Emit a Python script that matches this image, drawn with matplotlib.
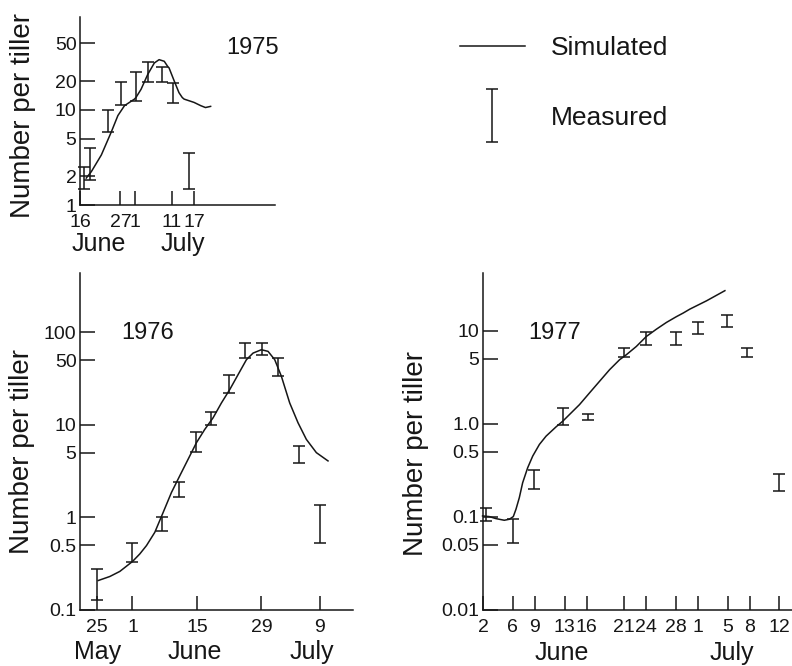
import matplotlib
matplotlib.use('Agg')
import matplotlib.pyplot as plt
from matplotlib.container import ErrorbarContainer
from matplotlib.legend_handler import HandlerErrorbar

plt.rcParams['font.family'] = ['Liberation Sans', 'DejaVu Sans']

INK = '#161616'
W, H = 792, 666

# ---- 1975 (x = day counted from 1 June; July d -> 30 + d)
meas_day_75 = [17.2, 18.8, 23.6, 27.2, 31.2, 34.4, 38.4, 41.4, 45.6]
meas_lo_75 = [1.46, 1.85, 5.9, 11.3, 12.5, 19.7, 19.7, 11.8, 1.48]
meas_hi_75 = [2.54, 3.94, 10.0, 19.7, 25.0, 31.7, 28.2, 19.4, 3.55]
sim_day_75 = [17.7, 19.1, 21.8, 24.5, 26.3, 28.1, 30.8, 31.2, 32.6, 34.4, 36.2,
              37.5, 38.9, 39.8, 40.2, 41.6, 42.9, 43.8, 44.3, 47.0, 48.8, 50.1, 51.5]
sim_75 = [1.92, 2.25, 3.36, 5.86, 8.73, 11.1, 13.0, 13.5, 16.5, 23.6, 31.2,
          33.8, 32.5, 28.8, 27.7, 20.2, 15.2, 13.5, 13.0, 12.0, 11.1, 10.6, 10.9]
xtick_75 = [16, 27, 31, 41, 47]
xlab_75 = ['16', '27', '1', '11', '17']
ytick_75 = [1, 2, 5, 10, 20, 50]
ylab_75 = ['1', '2', '5', '10', '20', '50']
months_75 = ['June', 'July']
month_x_75 = [21, 44]

# ---- 1976
meas_day_76 = [-6.8, 1, 7.4, 11.1, 14.9, 18.1, 22.0, 25.5, 29.1, 32.6, 37.2, 41.7]
meas_lo_76 = [0.127, 0.328, 0.72, 1.64, 5.1, 9.9, 22.0, 52, 57, 34, 3.9, 0.525]
meas_hi_76 = [0.278, 0.526, 1.02, 2.42, 8.4, 13.8, 34.8, 76, 76, 52.4, 5.9, 1.36]
sim_day_76 = [-6.45, -3.92, -1.75, 1.0, 2.59, 4.04, 5.85, 7.66, 9.47, 11.27, 13.08,
              14.89, 16.7, 18.51, 20.32, 22.13, 23.94, 25.75, 27.19, 29.0, 30.45,
              31.9, 33.34, 35.15, 36.96, 38.77, 40.94, 43.47]
sim_76 = [0.208, 0.230, 0.261, 0.334, 0.403, 0.496, 0.690, 1.13, 1.86, 2.81, 4.24,
          6.40, 8.91, 11.9, 17.2, 24.0, 34.8, 50.4, 59.4, 64.6, 62.0,
          50.4, 33.4, 17.2, 10.5, 6.95, 5.0, 4.07]
xtick_76 = [-6.8, 1, 15, 29, 41.7]
xlab_76 = ['25', '1', '15', '29', '9']
ytick_76 = [0.1, 0.5, 1, 5, 10, 50, 100]
ylab_76 = ['0.1', '0.5', '1', '5', '10', '50', '100']
months_76 = ['May', 'June', 'July']
month_x_76 = [-6.5, 14.5, 39.9]

# ---- 1977
meas_day_77 = [2.4, 6, 8.9, 12.8, 16.2, 21, 24, 28, 31, 34.9, 37.6, 42]
meas_lo_77 = [0.091, 0.053, 0.2, 0.98, 1.09, 5.2, 7.1, 7.1, 9.3, 11.1, 5.2, 0.19]
meas_hi_77 = [0.126, 0.094, 0.316, 1.48, 1.29, 6.5, 9.6, 9.7, 12.3, 14.9, 6.5, 0.29]
sim_day_77 = [1.94, 2.84, 3.74, 4.87, 5.55, 6.09, 6.45, 6.90, 7.35, 8.03, 8.71,
              9.61, 10.51, 11.86, 12.77, 13.67, 15.02, 16.37, 17.73, 19.08, 20.43,
              21.34, 22.69, 24.04, 25.39, 26.75, 28.10, 29.0, 29.91, 32.16, 34.64]
sim_77 = [0.1025, 0.1009, 0.0960, 0.0921, 0.0944, 0.1009, 0.121, 0.161, 0.233,
          0.338, 0.451, 0.601, 0.738, 0.929, 1.07, 1.26, 1.61, 2.15, 2.87, 3.82,
          4.89, 5.53, 6.79, 8.69, 10.4, 12.3, 14.2, 15.5, 17.1, 21.0, 27.0]
xtick_77 = [2, 6, 9, 13, 16, 21, 24, 28, 31, 35, 38, 42]
xlab_77 = ['2', '6', '9', '13', '16', '21', '24', '28', '1', '5', '8', '12']
ytick_77 = [0.01, 0.05, 0.1, 0.5, 1.0, 5, 10]
ylab_77 = ['0.01', '0.05', '0.1', '0.5', '1.0', '5', '10']
months_77 = ['June', 'July']
month_x_77 = [12.6, 35.6]


def panel(rect, days, lo, hi, sday, sim, xlim, ylim, xt, xl, yt, yl,
          months, month_x, month_y, year, year_xy, ylab_px):
    ax = fig.add_axes([rect[0] / W, 1 - rect[3] / H,
                       (rect[2] - rect[0]) / W, (rect[3] - rect[1]) / H])
    ax.set_yscale('log')
    line, = ax.plot(sday, sim, color=INK, lw=1.1, clip_on=False)
    mid = [(a + b) / 2 for a, b in zip(lo, hi)]
    err = [[m - a for m, a in zip(mid, lo)], [b - m for m, b in zip(mid, hi)]]
    eb = ax.errorbar(days, mid, yerr=err, fmt='none', ecolor=INK, elinewidth=1.1,
                     capsize=4.3, capthick=1.1, clip_on=False)
    ax.set_xlim(*xlim)
    ax.set_ylim(*ylim)
    ax.set_xticks(xt, xl)
    ax.set_yticks(yt, yl)
    ax.minorticks_off()
    for s in ['top', 'right']:
        ax.spines[s].set_visible(False)
    for s in ['left', 'bottom']:
        ax.spines[s].set_linewidth(1.1)
        ax.spines[s].set_color(INK)
    ax.tick_params(axis='y', direction='in', length=11, width=1.1, pad=2.5,
                   labelsize=14, colors=INK)
    ax.tick_params(axis='x', direction='in', length=10, width=1.1, pad=6.5,
                   labelsize=14, colors=INK)
    for m, mx in zip(months, month_x):
        ax.text(mx, month_y, m, transform=ax.get_xaxis_transform(),
                ha='center', va='center', fontsize=18, color=INK)
    ax.text(year_xy[0], year_xy[1], year, transform=ax.transAxes,
            ha='center', va='center', fontsize=17, color=INK)
    fig.text(ylab_px[0] / W, 1 - ylab_px[1] / H, 'Number per tiller', rotation=90,
             ha='center', va='center', fontsize=20, color=INK)
    return ax, line, eb


fig = plt.figure(figsize=(W / 100, H / 100), dpi=100)

panel((80, 17, 275, 205), meas_day_75, meas_lo_75, meas_hi_75, sim_day_75, sim_75,
      (16, 69), (1, 95), xtick_75, xlab_75, ytick_75, ylab_75,
      months_75, month_x_75, -0.207, '1975', (0.887, 0.835), (23, 116))

ax76, sim_line, meas_eb = panel(
    (80, 273, 353, 610), meas_day_76, meas_lo_76, meas_hi_76, sim_day_76, sim_76,
    (-10.4, 48.9), (0.1, 435), xtick_76, xlab_76, ytick_76, ylab_76,
    months_76, month_x_76, -0.125, '1976', (0.249, 0.822), (22, 452))

panel((483, 273, 795, 610), meas_day_77, meas_lo_77, meas_hi_77, sim_day_77, sim_77,
      (2, 44.1), (0.01, 41.8), xtick_77, xlab_77, ytick_77, ylab_77,
      months_77, month_x_77, -0.128, '1977', (0.231, 0.822), (416, 454))

fig.legend([sim_line, meas_eb], ['Simulated', 'Measured'],
           handler_map={ErrorbarContainer: HandlerErrorbar(yerr_size=1.0)},
           loc='upper left', bbox_to_anchor=(460 / W, 1 - 36 / H),
           frameon=False, borderpad=0, borderaxespad=0, fontsize=19,
           handlelength=2.46, handletextpad=1.0, labelspacing=1.73,
           labelcolor=INK)

fig.savefig('out.png', dpi=100)
